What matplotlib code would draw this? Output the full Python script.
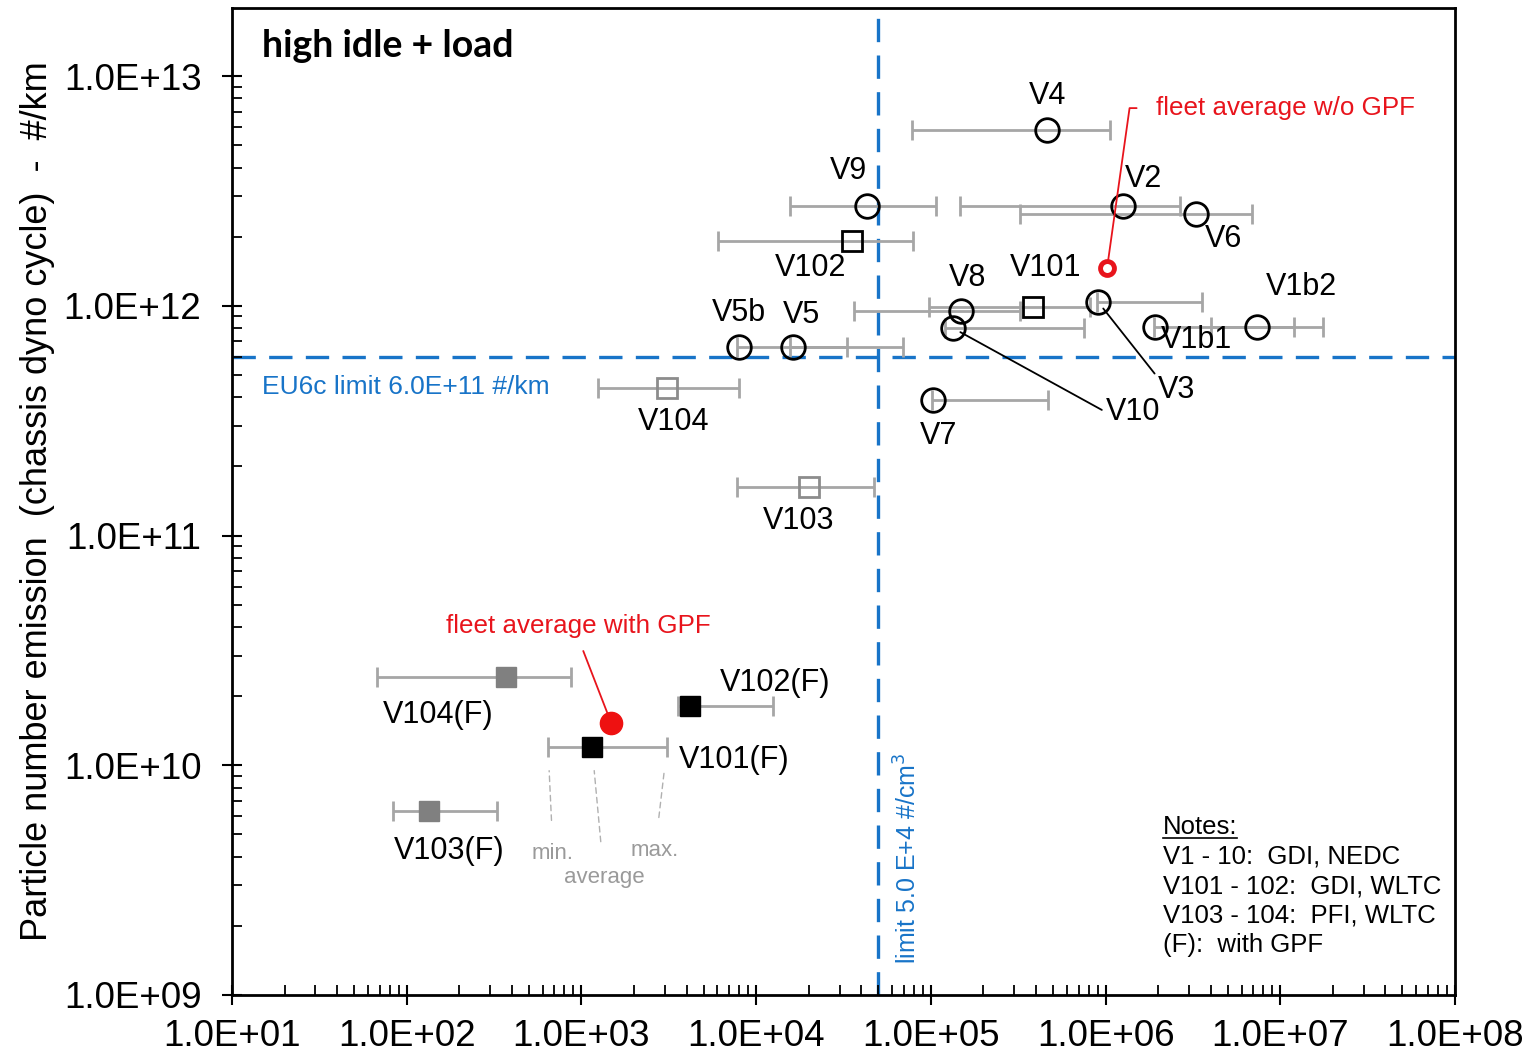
import matplotlib.pyplot as plt
from matplotlib.ticker import LogLocator, FixedLocator, FuncFormatter, NullFormatter
from matplotlib.lines import Line2D

plt.rcParams['font.family'] = ['Liberation Sans', 'DejaVu Sans']

# vehicle data: PN concentration at high idle (#/cm3) vs PN emission in chassis dyno cycle (#/km)
vehicles = ['V4', 'V9', 'V2', 'V6', 'V102', 'V101', 'V8', 'V5b', 'V5', 'V1b2',
            'V1b1', 'V3', 'V10', 'V7', 'V104', 'V103',
            'V104(F)', 'V102(F)', 'V101(F)', 'V103(F)']
conc_avg = [4.62e5, 4.31e4, 1.26e6, 3.30e6, 3.54e4, 3.85e5, 1.49e5, 7.98e3, 1.63e4, 7.37e6,
            1.92e6, 9.06e5, 1.34e5, 1.03e5, 3.09e3, 2.01e4,
            370, 4.19e3, 1.15e3, 134]
conc_min = [7.8e4, 1.56e4, 1.47e5, 3.24e5, 6.05e3, 9.77e4, 3.63e4, 7.78e3, 1.56e4, 4.0e6,
            1.9e6, 8.9e5, 1.21e5, 1.02e5, 1.24e3, 7.78e3,
            67.6, 3.57e3, 644, 83.5]
conc_max = [1.06e6, 1.07e5, 2.67e6, 6.9e6, 7.9e4, 8.15e5, 3.24e5, 3.31e4, 6.93e4, 1.76e7,
            1.2e7, 3.57e6, 7.53e5, 4.69e5, 7.98e3, 4.73e4,
            871, 1.25e4, 3.09e3, 329]
pn_km = [5.82e12, 2.72e12, 2.72e12, 2.51e12, 1.91e12, 9.9e11, 9.5e11, 6.6e11, 6.6e11, 8.1e11,
         8.1e11, 1.04e12, 8.0e11, 3.89e11, 4.39e11, 1.63e11,
         2.42e10, 1.81e10, 1.2e10, 6.32e9]
group = ['gdi', 'gdi', 'gdi', 'gdi', 'wltc', 'wltc', 'gdi', 'gdi', 'gdi', 'gdi',
         'gdi', 'gdi', 'gdi', 'gdi', 'pfi', 'pfi',
         'pfi_f', 'wltc_f', 'wltc_f', 'pfi_f']

fleet_wo_gpf = (1.02e6, 1.46e12)
fleet_with_gpf = (1.48e3, 1.53e10)

eu6c_limit = 6.0e11
conc_limit = 5.0e4

x_ticks = [1e1, 1e2, 1e3, 1e4, 1e5, 1e6, 1e7, 1e8]
y_ticks = [1e9, 1e10, 1e11, 1e12, 1e13]

styles = {
    'gdi':    dict(marker='o', ms=17, mfc='none', mec='black', mew=2),
    'wltc':   dict(marker='s', ms=14, mfc='none', mec='black', mew=2),
    'pfi':    dict(marker='s', ms=14, mfc='none', mec='#8c8c8c', mew=2),
    'wltc_f': dict(marker='s', ms=14, mfc='black', mec='black', mew=1),
    'pfi_f':  dict(marker='s', ms=14, mfc='#808080', mec='#808080', mew=1),
}

# label offsets from the marker in pixels
label_offset = {
    'V4': (1, 34), 'V9': (-19, 35), 'V2': (20, 27), 'V6': (27, -25),
    'V102': (-42, -27), 'V101': (12, 39), 'V8': (6, 33), 'V5b': (0, 34),
    'V5': (8, 32), 'V1b2': (44, 40), 'V1b1': (41, -13), 'V7': (5, -36),
    'V104': (7, -34), 'V103': (-11, -34), 'V104(F)': (-68, -38),
    'V102(F)': (85, 23), 'V101(F)': (142, -13), 'V103(F)': (20, -40),
}

fig = plt.figure(figsize=(15.29, 10.56), dpi=100)
ax = fig.add_axes([232 / 1529, 1 - 995 / 1056, 1223 / 1529, 987 / 1056])
ax.set_xscale('log')
ax.set_yscale('log')
ax.set_xlim(1e1, 1e8)
ax.set_ylim(1e9, 1.98e13)

grey = '#a6a6a6'
for i, name in enumerate(vehicles):
    ax.errorbar(conc_avg[i], pn_km[i],
                xerr=[[conc_avg[i] - conc_min[i]], [conc_max[i] - conc_avg[i]]],
                fmt='none', ecolor=grey, elinewidth=2, capsize=7, capthick=2, zorder=2)
for i, name in enumerate(vehicles):
    ax.plot(conc_avg[i], pn_km[i], linestyle='none', zorder=3, **styles[group[i]])

ax.plot(*fleet_wo_gpf, marker='o', ms=10, mfc='none', mec='#e8141c', mew=3.5,
        linestyle='none', zorder=4)
ax.plot(*fleet_with_gpf, marker='o', ms=16, mfc='#ee1111', mec='#ee1111',
        linestyle='none', zorder=4)

blue = '#1874c8'
ax.axhline(eu6c_limit, color=blue, lw=2.4, dashes=(7, 4), zorder=1)
ax.axvline(conc_limit, color=blue, lw=2.4, dashes=(7, 4), zorder=1)

lbl_kw = dict(fontsize=22, ha='center', va='center', textcoords='offset pixels', zorder=5)
for i, name in enumerate(vehicles):
    if name in label_offset:
        ax.annotate(name, (conc_avg[i], pn_km[i]), xytext=label_offset[name], **lbl_kw)

# labels with leader lines
idx = vehicles.index('V3')
ax.annotate('V3', (conc_avg[idx], pn_km[idx]), xytext=(78, -88),
            arrowprops=dict(arrowstyle='-', color='black', lw=1.3, shrinkA=0, shrinkB=6,
                            relpos=(0.05, 0.85)), **lbl_kw)
idx = vehicles.index('V10')
ax.annotate('V10', (conc_avg[idx], pn_km[idx]), xytext=(180, -84),
            arrowprops=dict(arrowstyle='-', color='black', lw=1.3, shrinkA=1, shrinkB=6,
                            relpos=(0, 0.5)), **lbl_kw)

ax.annotate('fleet average w/o GPF', fleet_wo_gpf, xytext=(49, 160),
            textcoords='offset pixels', fontsize=18.7, color='#e8141c', ha='left', va='center',
            arrowprops=dict(arrowstyle='-', color='#e8141c', lw=1.3, shrinkA=12, shrinkB=5,
                            relpos=(0, 0.5),
                            connectionstyle='angle,angleA=0,angleB=82,rad=0'))
ax.annotate('fleet average with GPF', fleet_with_gpf, xytext=(-33, 97),
            textcoords='offset pixels', fontsize=18.7, color='#e8141c', ha='center', va='center',
            arrowprops=dict(arrowstyle='-', color='#e8141c', lw=1.3, shrinkA=8, shrinkB=8,
                            relpos=(0.5, 0)))

# min / average / max hint for V101(F)
idx = vehicles.index('V101(F)')
hint_kw = dict(textcoords='offset pixels', fontsize=16, color='#9a9a9a', ha='center', va='center')
hint_arrow = dict(arrowstyle='-', color='#b0b0b0', lw=1.0, linestyle=(0, (4, 3)), shrinkB=17)
ax.annotate('min.', (conc_min[idx], pn_km[idx]), xytext=(5, -106),
            arrowprops=dict(shrinkA=14, **hint_arrow), **hint_kw)
ax.annotate('average', (conc_avg[idx], pn_km[idx]), xytext=(12, -130),
            arrowprops=dict(shrinkA=16, **hint_arrow), **hint_kw)
ax.annotate('max.', (conc_max[idx], pn_km[idx]), xytext=(-12, -103),
            arrowprops=dict(shrinkA=14, **hint_arrow), **hint_kw)

ax.text(0.0245, 0.961, 'high idle + load', transform=ax.transAxes,
        fontsize=27, fontweight='bold', family=['Lato', 'DejaVu Sans'], ha='left', va='center')
ax.annotate('EU6c limit 6.0E+11 #/km', (1e1, eu6c_limit), xytext=(30, -30),
            textcoords='offset pixels', fontsize=19, color=blue, ha='left', va='center')
ax.annotate('limit 5.0 E+4 #/cm$^3$', (conc_limit, 1e9), xytext=(30, 137),
            textcoords='offset pixels', fontsize=18, color=blue, rotation=90,
            ha='center', va='center')

notes = ['V1 - 10:  GDI, NEDC', 'V101 - 102:  GDI, WLTC', 'V103 - 104:  PFI, WLTC', '(F):  with GPF']
notes_title = ax.text(0.761, 0.170, 'Notes:', transform=ax.transAxes, fontsize=18.5,
                      ha='left', va='center')
for k, line in enumerate(notes):
    ax.text(0.761, 0.140 - k * 0.0297, line, transform=ax.transAxes, fontsize=18.5,
            ha='left', va='center')

ax.xaxis.set_major_locator(FixedLocator(x_ticks))
ax.yaxis.set_major_locator(FixedLocator(y_ticks))
ax.xaxis.set_minor_locator(LogLocator(base=10, subs=range(2, 10), numticks=100))
ax.yaxis.set_minor_locator(LogLocator(base=10, subs=range(2, 10), numticks=100))
sci = FuncFormatter(lambda v, p: f'{v:.1E}')
ax.xaxis.set_major_formatter(sci)
ax.yaxis.set_major_formatter(sci)
ax.xaxis.set_minor_formatter(NullFormatter())
ax.yaxis.set_minor_formatter(NullFormatter())
ax.tick_params(which='major', direction='inout', length=14, width=1.5, labelsize=26.5)
ax.tick_params(which='minor', direction='in', length=7, width=1.3)
ax.tick_params(axis='x', which='major', pad=10)
ax.tick_params(axis='y', which='major', pad=15)
for s in ax.spines.values():
    s.set_linewidth(2)

ax.set_ylabel('Particle number emission  (chassis dyno cycle)  -  #/km', fontsize=26,
              labelpad=6)

# underline for the notes heading
fig.canvas.draw()
bb = notes_title.get_window_extent()
fig.add_artist(Line2D([bb.x0, bb.x1], [bb.y0 + 1, bb.y0 + 1], color='black', lw=1.2,
                      transform=None))

fig.savefig('out.png', dpi=100)
